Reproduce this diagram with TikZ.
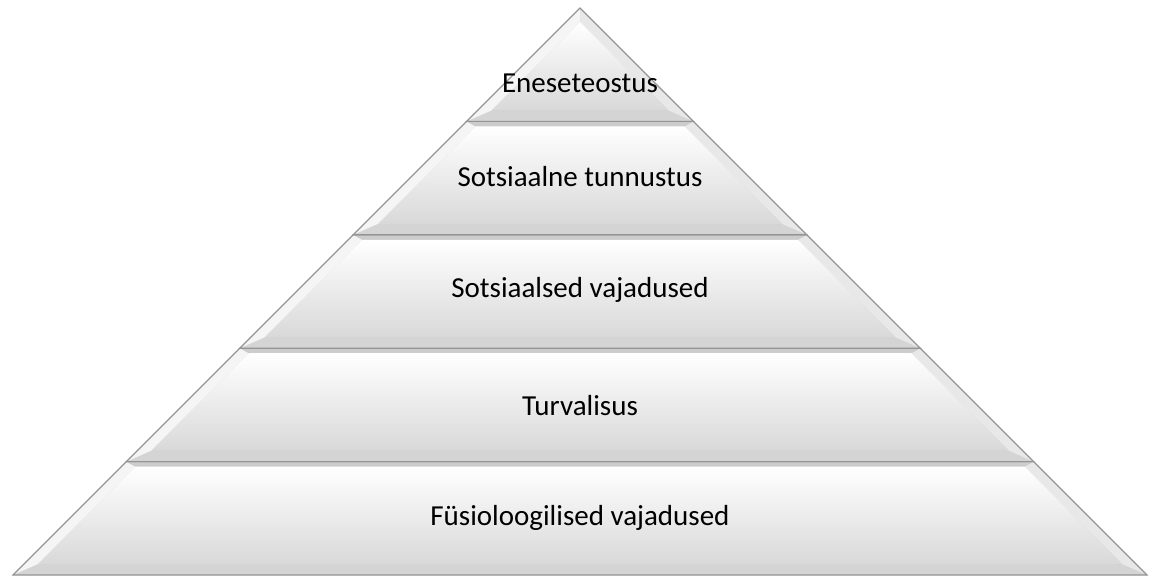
\documentclass[tikz,border=0pt]{standalone}
\usepackage{fontspec}
\setmainfont{Carlito}
\tikzset{
  outline/.style={draw=black!42, line width=1.1pt},
  facefill/.style={top color=white, bottom color=black!15},
  leftbevel/.style={fill=black!4},
  rightbevel/.style={fill=black!9},
  topbevel/.style={fill=black!20},
  bottombevel/.style={fill=black!17},
  tierlabel/.style={font=\fontsize{29}{34}\selectfont, text=black, inner sep=0pt, anchor=base}
}
\begin{document}
\begin{tikzpicture}[x=1pt,y=1pt]
\useasboundingbox (0,0) rectangle (1150,576);
\foreach \i in {0,...,4} {
  \pgfmathsetmacro\pyB{1+113.4*\i}
  \pgfmathsetmacro\pyT{\pyB+113.4}
  \pgfmathsetmacro\phB{568-\pyB}
  \pgfmathsetmacro\phT{max(568-\pyT,0)}
  \pgfmathsetmacro\pyBi{\pyB+11}
  \pgfmathsetmacro\pyTi{min(\pyT-5,554)}
  \pgfmathsetmacro\phBi{568-\pyBi-14}
  \pgfmathsetmacro\phTi{max(568-\pyTi-14,0)}
  \coordinate (oBL) at ({580-\phB},\pyB);
  \coordinate (oBR) at ({580+\phB},\pyB);
  \coordinate (oTR) at ({580+\phT},\pyT);
  \coordinate (oTL) at ({580-\phT},\pyT);
  \coordinate (iBL) at ({580-\phBi},\pyBi);
  \coordinate (iBR) at ({580+\phBi},\pyBi);
  \coordinate (iTR) at ({580+\phTi},\pyTi);
  \coordinate (iTL) at ({580-\phTi},\pyTi);
  \fill[black!20] (oBL) -- (oBR) -- (oTR) -- (oTL) -- cycle;
  \fill[bottombevel] (oBL) -- (oBR) -- (iBR) -- (iBL) -- cycle;
  \fill[leftbevel] (oBL) -- (iBL) -- (iTL) -- (oTL) -- cycle;
  \fill[rightbevel] (oBR) -- (iBR) -- (iTR) -- (oTR) -- cycle;
  \fill[topbevel] (oTL) -- (oTR) -- (iTR) -- (iTL) -- cycle;
  \shade[facefill] (iBL) -- (iBR) -- (iTR) -- (iTL) -- cycle;
  \draw[outline] (oBL) -- (oBR) -- (oTR) -- (oTL) -- cycle;
}
\node[tierlabel] (t5) at (580,483) {Eneseteostus};
\node[tierlabel] (t4) at (580,389) {Sotsiaalne tunnustus};
\node[tierlabel] (t3) at (580,278) {Sotsiaalsed vajadused};
\node[tierlabel] (t2) at (580,161) {Turvalisus};
\node[tierlabel] (t1) at (580,51) {Füsioloogilised vajadused};
\end{tikzpicture}
\end{document}
